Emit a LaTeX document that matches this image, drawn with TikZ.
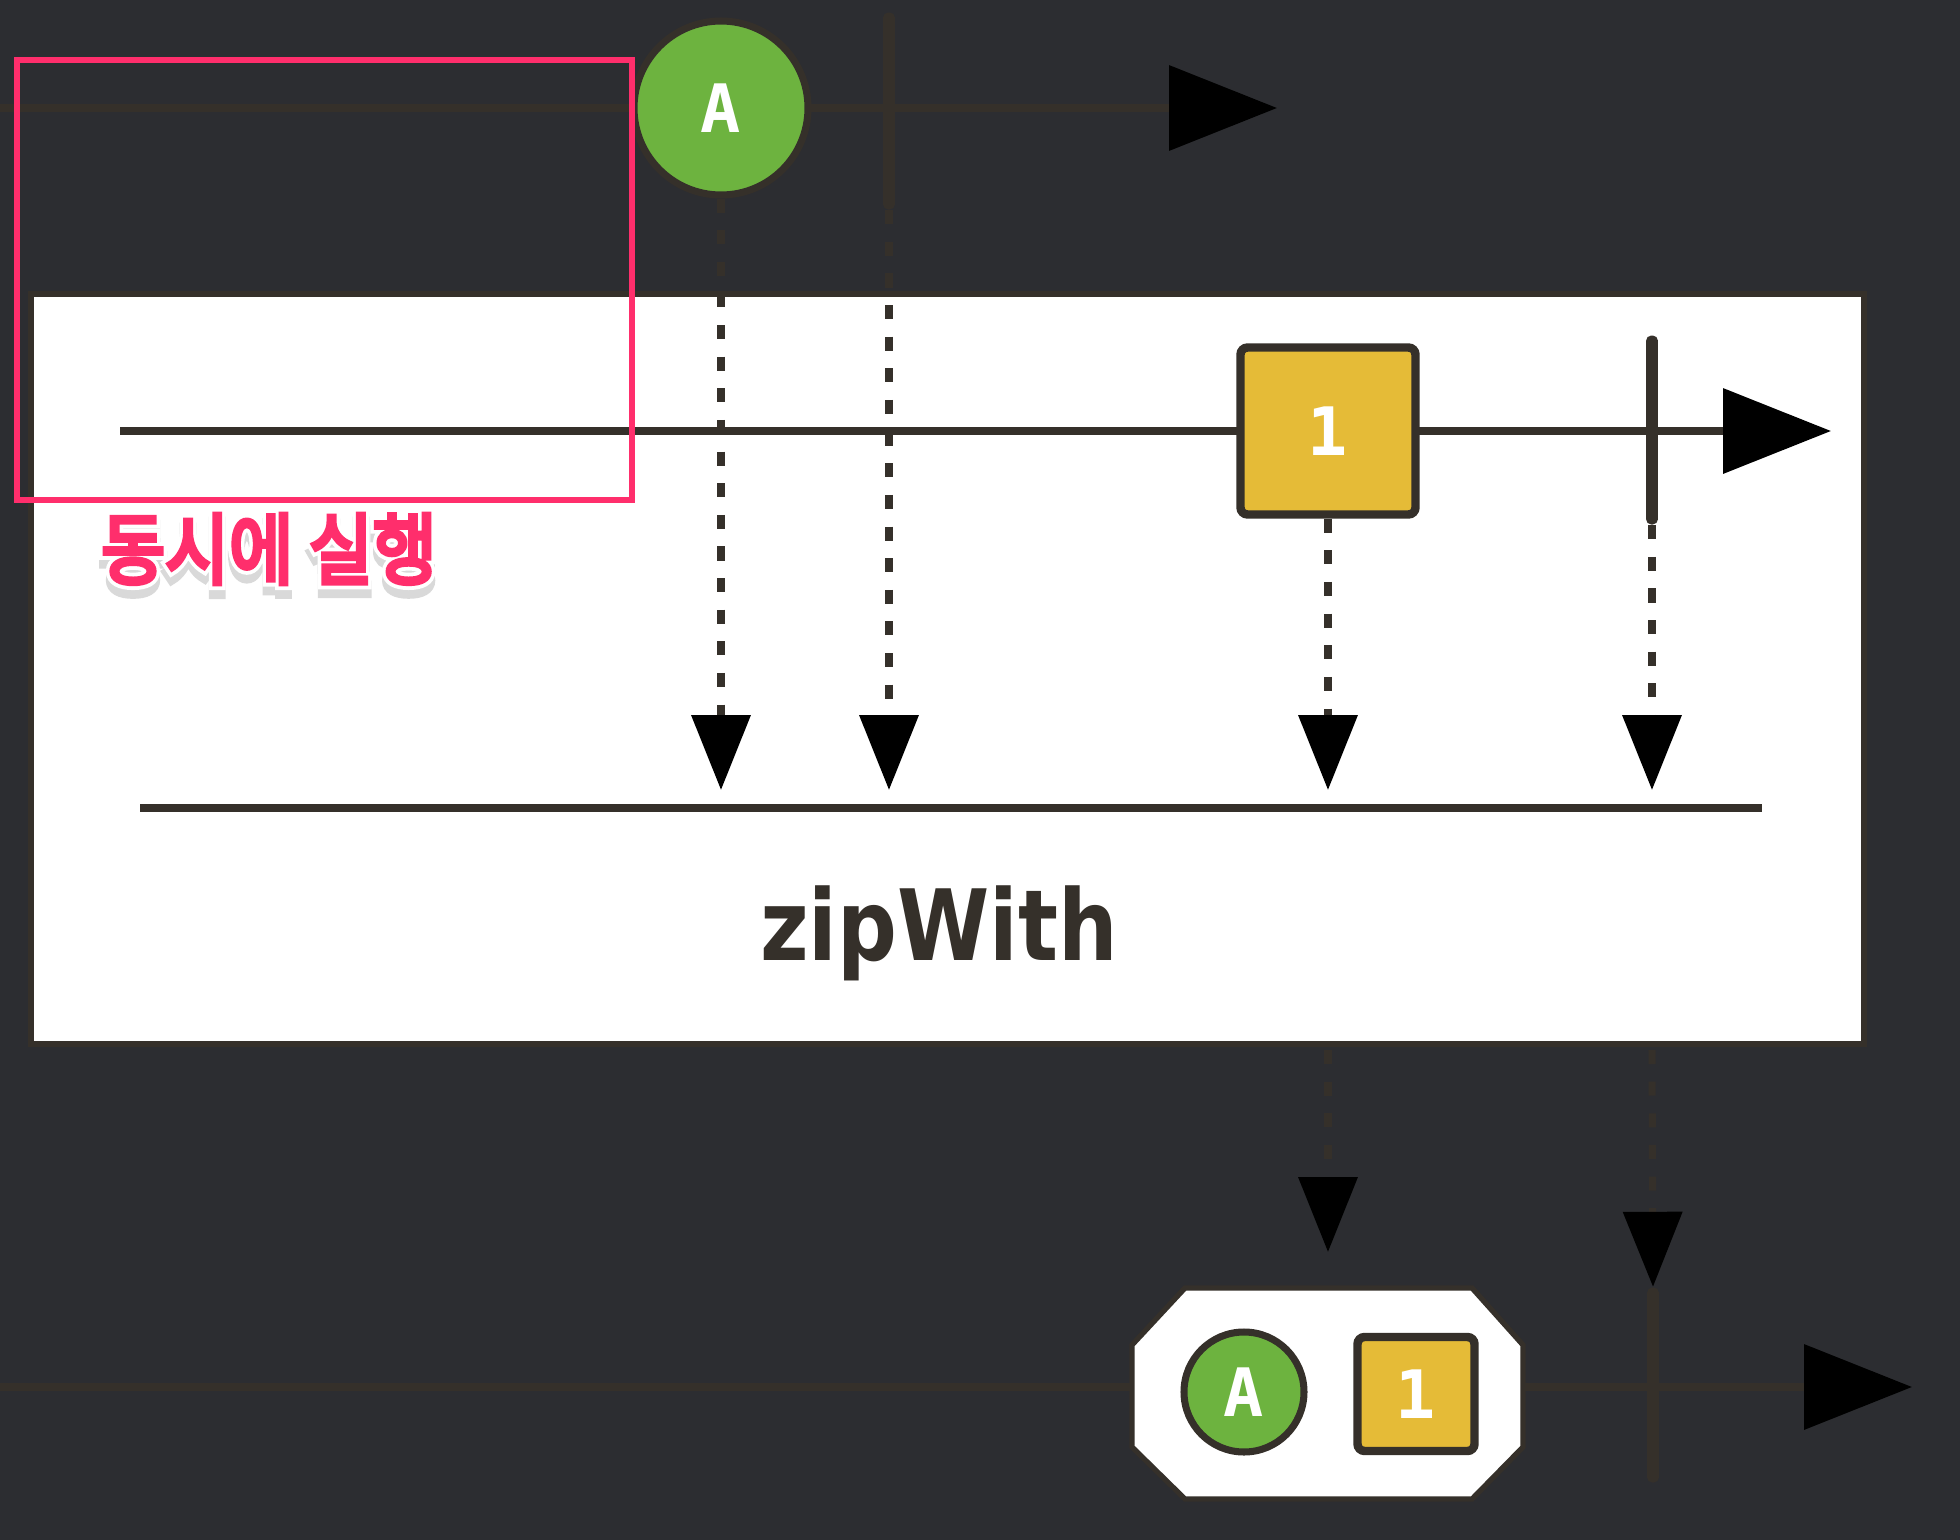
\documentclass[tikz,border=0pt]{standalone}
\usepackage{fontspec}
\usetikzlibrary{arrows.meta,positioning}
\newfontfamily\korfont{Noto Sans CJK KR}
\newfontfamily\marblefont{DejaVu Sans Mono}
\newfontfamily\opfont{DejaVu Sans}
\definecolor{bg}{HTML}{2C2D31}
\definecolor{ink}{HTML}{35302A}
\definecolor{marblegreen}{HTML}{6DB33F}
\definecolor{tokenyellow}{HTML}{E5BB37}
\definecolor{hotpink}{HTML}{FF2E6C}

\begin{document}
\begin{tikzpicture}[x=0.1mm,y=-0.1mm,
	axis/.style={ink,line width=2pt,-{Triangle[color=black,length=1.08cm,width=0.84cm]}},
	flow/.style={ink,line width=2pt,dash pattern=on 4pt off 5pt,shorten >=1.8mm,
		-{Triangle[color=black,length=0.75cm,width=0.58cm]}},
	marble/.style={circle,draw=ink,line width=2pt,fill=marblegreen,text=white,inner sep=0pt,
		minimum size=1.74cm,font=\marblefont\bfseries\fontsize{19}{19}\selectfont},
	token/.style={rectangle,rounded corners=2pt,draw=ink,line width=2.4pt,fill=tokenyellow,
		text=white,inner sep=0pt,minimum width=1.75cm,minimum height=1.67cm,
		font=\marblefont\bfseries\fontsize{19}{19}\selectfont},
	endmark/.style={rectangle,rounded corners=1.5pt,fill=ink,inner sep=0pt,minimum width=3.4pt},
	korlabel/.style={inner sep=0pt,xscale=0.9,font=\korfont\fontsize{22}{22}\selectfont\addfontfeature{FakeBold=#1}},
	korlabel/.default=6]
	\fill[bg] (0,0) rectangle (1960,1540);
	\useasboundingbox (0,0) rectangle (1960,1540);

	% source line
	\coordinate (s0) at (0,108);
	\coordinate (s1) at (1277,108);
	\draw[axis] (s0) -- (s1);
	\node (a1)[marble] at (721,108) {A};
	\node (e1)[endmark,minimum height=1.97cm] at (889,111) {};

	% operator box
	\draw[ink,line width=1.5pt,fill=white] (31,294) rectangle (1864,1044);
	\coordinate (i0) at (120,431);
	\coordinate (i1) at (1831,431);
	\draw[axis] (i0) -- (i1);
	\node (n1)[token] at (1328,431) {1};
	\node (e2)[endmark,minimum height=1.89cm] at (1652,430) {};
	\coordinate (o0) at (140,808);
	\coordinate (o1) at (1762,808);
	\draw[ink,line width=2.2pt] (o0) -- (o1);
	\node (op)[anchor=base,text=ink,xscale=0.85,font=\opfont\bfseries\fontsize{28}{28}\selectfont] at (939,960) {zipWith};
	\foreach \src in {a1,e1,n1,e2}
		\draw[flow] (\src.south) -- (\src |- o0);

	% result line
	\coordinate (r0) at (0,1387);
	\coordinate (r1) at (1912,1387);
	\draw[axis] (r0) -- (r1);
	\fill[white,draw=ink,line width=1.5pt] (1132,1345) -- (1185,1288) -- (1472,1288) -- (1523,1345)
		-- (1523,1447) -- (1472,1499) -- (1185,1499) -- (1132,1447) -- cycle;
	\node (a2)[marble,minimum size=1.2cm] at (1244,1392) {A};
	\node (n2)[token,minimum width=1.17cm,minimum height=1.14cm] at (1416,1394) {1};
	\node (e3)[endmark,minimum height=1.95cm] at (1653,1385) {};
	\coordinate (b1) at (1328,1050);
	\coordinate (b2) at (1652,1050);
	\coordinate (p1) at (1328,1252);
	\draw[flow,shorten >=0pt] (b1) -- (p1);
	\draw[flow,shorten >=0pt] (b2) -- (e3.north);

	% highlight
	\draw[hotpink,line width=1.6pt] (17,60) rectangle (632,500);
	\coordinate (noteat) at (269,549);
	\node[korlabel=16,text=black!15] at ([yshift=-2.5pt]noteat) {동시에 실행};
	\node[korlabel=16,text=white] at (noteat) {동시에 실행};
	\node (note)[korlabel,text=hotpink] at (noteat) {동시에 실행};
\end{tikzpicture}
\end{document}
